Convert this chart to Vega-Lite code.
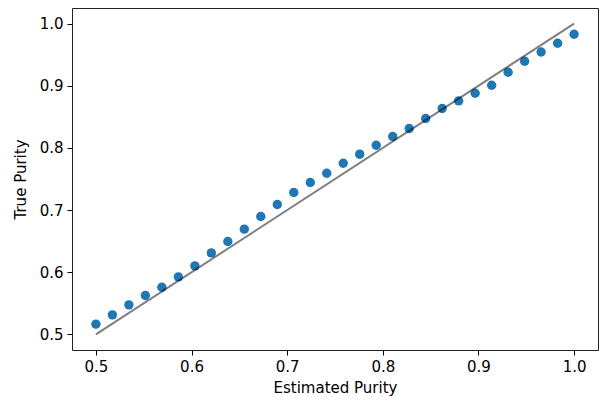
{
  "$schema": "https://vega.github.io/schema/vega-lite/v6.json",
  "width": 526,
  "height": 342,
  "autosize": {"type": "none"},
  "padding": {"left": 72, "top": 8, "right": 1, "bottom": 51},
  "background": "white",
  "config": {
    "font": "DejaVu Sans",
    "view": {"stroke": "#222", "strokeWidth": 1},
    "axis": {
      "grid": false,
      "domain": false,
      "tickColor": "#000",
      "tickSize": 5,
      "tickWidth": 1,
      "labelFont": "DejaVu Sans",
      "labelFontSize": 15,
      "labelColor": "#000",
      "labelPadding": 4,
      "titleFont": "DejaVu Sans",
      "titleFontSize": 15,
      "titleFontWeight": "normal",
      "titleColor": "#000"
    }
  },
  "layer": [
    {
      "data": {
        "values": [
          {"est": 0.5, "true": 0.5166},
          {"est": 0.51724, "true": 0.5315},
          {"est": 0.53448, "true": 0.5476},
          {"est": 0.55172, "true": 0.5627},
          {"est": 0.56897, "true": 0.576},
          {"est": 0.58621, "true": 0.5926},
          {"est": 0.60345, "true": 0.6103},
          {"est": 0.62069, "true": 0.6312},
          {"est": 0.63793, "true": 0.6495},
          {"est": 0.65517, "true": 0.6693},
          {"est": 0.67241, "true": 0.6897},
          {"est": 0.68966, "true": 0.709},
          {"est": 0.7069, "true": 0.7283},
          {"est": 0.72414, "true": 0.7444},
          {"est": 0.74138, "true": 0.7593},
          {"est": 0.75862, "true": 0.7754},
          {"est": 0.77586, "true": 0.7899},
          {"est": 0.7931, "true": 0.8043},
          {"est": 0.81034, "true": 0.8183},
          {"est": 0.82759, "true": 0.8312},
          {"est": 0.84483, "true": 0.8473},
          {"est": 0.86207, "true": 0.8633},
          {"est": 0.87931, "true": 0.8756},
          {"est": 0.89655, "true": 0.8879},
          {"est": 0.91379, "true": 0.9008},
          {"est": 0.93103, "true": 0.9217},
          {"est": 0.94828, "true": 0.9394},
          {"est": 0.96552, "true": 0.9543},
          {"est": 0.98276, "true": 0.9683},
          {"est": 1.0, "true": 0.9828}
        ]
      },
      "mark": {"type": "point", "filled": true, "size": 88, "color": "#1f77b4", "opacity": 1},
      "encoding": {
        "x": {
          "field": "est", "type": "quantitative",
          "scale": {"domain": [0.475, 1.025], "nice": false, "zero": false},
          "axis": {"values": [0.5, 0.6, 0.7, 0.8, 0.9, 1.0], "format": ".1f", "title": "Estimated Purity", "titlePadding": 6}
        },
        "y": {
          "field": "true", "type": "quantitative",
          "scale": {"domain": [0.475, 1.025], "nice": false, "zero": false},
          "axis": {"values": [0.5, 0.6, 0.7, 0.8, 0.9, 1.0], "format": ".1f", "title": "True Purity", "titlePadding": 11}
        }
      }
    },
    {
      "data": {"values": [{"est": 0.5, "true": 0.5}, {"est": 1.0, "true": 1.0}]},
      "mark": {"type": "line", "color": "#000", "opacity": 0.5, "strokeWidth": 2},
      "encoding": {
        "x": {"field": "est", "type": "quantitative"},
        "y": {"field": "true", "type": "quantitative"}
      }
    }
  ]
}
